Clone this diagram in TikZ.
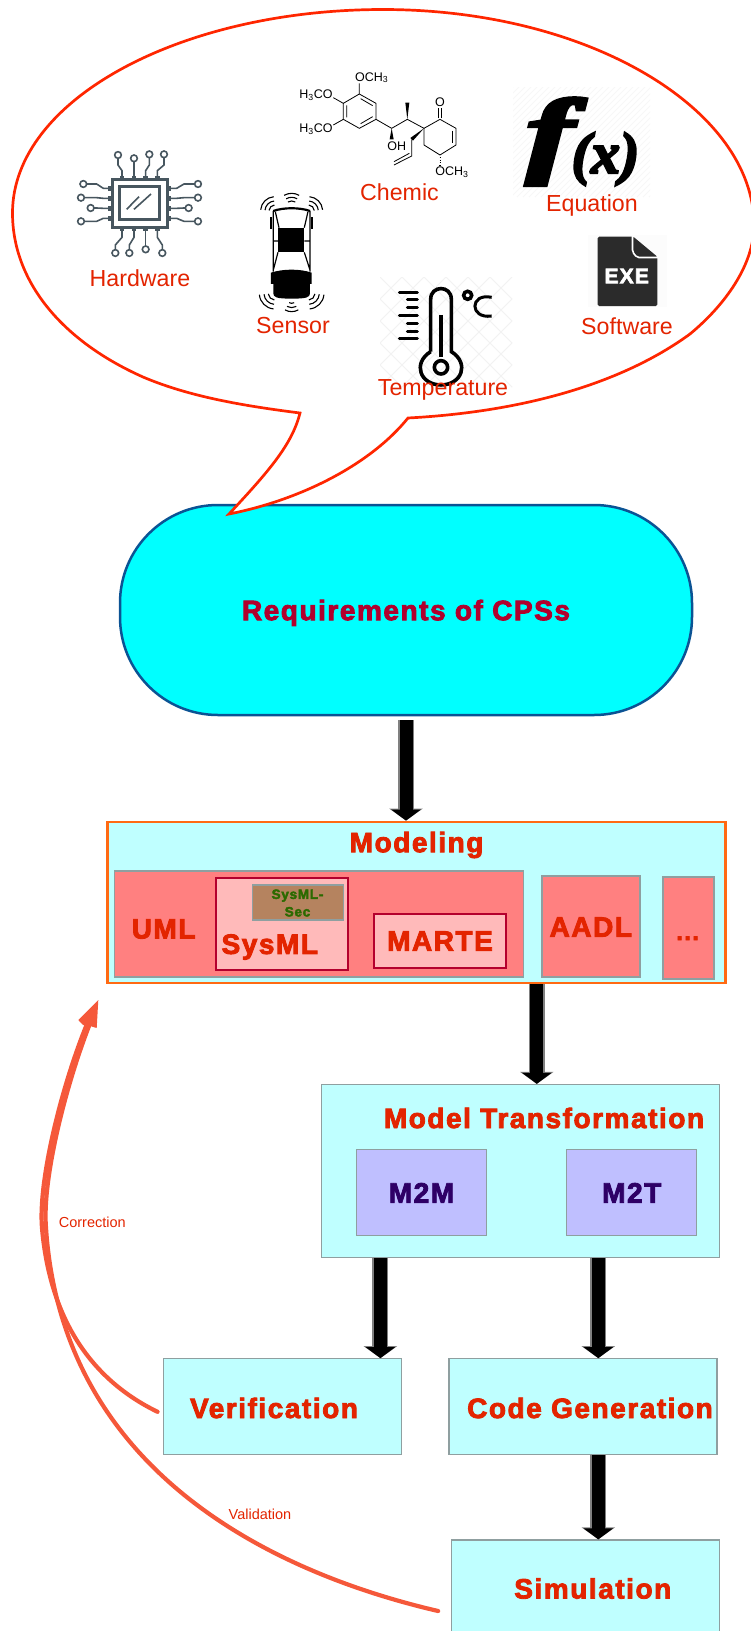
\documentclass[tikz,border=0pt]{standalone}
\usepackage{fontspec}
\setmainfont{Liberation Sans}
\newfontfamily\heavyfont[UprightFont=* Bold,FakeBold=3,LetterSpace=5.5]{Liberation Sans}
\newfontfamily\formulafont[UprightFont=* Bold Italic,FakeBold=4]{Liberation Serif}
\usetikzlibrary{calc, positioning, arrows.meta}

\definecolor{labelred}{HTML}{E32400}
\definecolor{bubblered}{HTML}{FF2600}
\definecolor{pillcyan}{HTML}{00FFFF}
\definecolor{pillblue}{HTML}{0B5394}
\definecolor{pilltext}{HTML}{B0002D}
\definecolor{palecyan}{HTML}{BFFFFF}
\definecolor{salmon}{HTML}{FF8080}
\definecolor{palered}{HTML}{FFBABA}
\definecolor{crimson}{HTML}{B4002D}
\definecolor{secbrown}{HTML}{B5835F}
\definecolor{secgreen}{HTML}{2B6A00}
\definecolor{lilac}{HTML}{BFBFFF}
\definecolor{darkviolet}{HTML}{2E0066}
\definecolor{edgegrey}{HTML}{8F9FA0}
\definecolor{edgeorange}{HTML}{FF6A13}
\definecolor{loopred}{HTML}{F5583A}
\definecolor{chipslate}{HTML}{47565F}
\definecolor{exedark}{HTML}{2B2B2B}

\newcommand{\heavy}[1]{\fontsize{#1}{#1}\selectfont\heavyfont}

\tikzset{
  box/.style={draw=edgegrey, line width=1.3pt, fill=palecyan, inner sep=0pt},
  redbox/.style={box, fill=salmon},
  innerbox/.style={draw=crimson, line width=1.8pt, fill=palered, inner sep=0pt},
  lilacbox/.style={box, fill=lilac, text=darkviolet, font=\heavy{28}},
  title/.style={text=labelred, font=\heavy{28}, inner sep=0pt},
  icontext/.style={text=labelred, font=\fontsize{23.2}{25}\selectfont, inner sep=0pt},
  smalltext/.style={text=labelred, font=\fontsize{14.5}{16}\selectfont, inner sep=0pt},
  chemtext/.style={font=\fontsize{12.5}{14}\selectfont, inner sep=0pt},
  bond/.style={line width=0.8pt, black},
  wedge/.style={fill=black, draw=none},
  fatarrow/.style={line width=13pt, black, -{Triangle[length=11pt,width=29pt]},
    preaction={draw=gray, line width=16pt, -{Triangle[length=12pt,width=33pt]}}},
  loopline/.style={loopred, line width=4.2pt, line cap=round},
  chipline/.style={chipslate, line width=1.6pt},
  sensorarc/.style={black, line width=1.1pt},
  hatch/.style={black!5, line width=1pt}
}

\begin{document}
\begin{tikzpicture}[x=1pt, y=-1pt]
  \useasboundingbox (0,0) rectangle (750,1631);

  % Requirements
  \node[draw=pillblue, line width=2.5pt, fill=pillcyan, rounded corners=98pt,
    minimum width=572pt, minimum height=210pt, text=pilltext, font=\heavy{28}, text depth=0pt]
    (reqs) at (406,610) {Requirements of CPSs};

  % Speech bubble
  \draw[bubblered, line width=2.7pt, fill=white] (408,418)
    .. controls (370,465) and (300,500) .. (229,514)
    .. controls (268,472) and (292,445) .. (300,413)
    .. controls (245,406) and (190,397) .. (143,377)
    .. controls (60,340) and (12.5,280) .. (12.5,213)
    .. controls (12.5,100) and (180,9.5) .. (383,9.5)
    .. controls (590,9.5) and (754,110) .. (754,225)
    .. controls (754,265) and (725,305) .. (690,334)
    .. controls (620,385) and (520,412) .. (408,418) -- cycle;

  % Hardware icon
  \begin{scope}[shift={(60,130)}, scale=0.3333]
    \draw[chipline, line width=3pt] (157,150) rectangle (322,292);
    \draw[chipline, line width=3pt] (180,170) rectangle (300,270);
    \draw[chipline] (200,238) -- (237,200) (222,238) -- (273,192);
    \foreach \a/\b/\c in {186/174/75, 222/222/85, 257/268/73, 292/312/73} {
      \fill[chipslate] (\a-7,138) rectangle (\a+7,150);
      \draw[chipline] (\a,140) -- (\a,122) -- (\b,105) -- (\b,\c+10);
      \draw[chipline] (\b,\c) circle (10);
    }
    \foreach \a/\b/\c in {186/166/369, 222/208/369, 257/257/358, 292/307/369} {
      \fill[chipslate] (\a-7,292) rectangle (\a+7,304);
      \draw[chipline] (\a,302) -- (\a,322) -- (\b,345) -- (\b,\c-10);
      \draw[chipline] (\b,\c) circle (10);
    }
    \foreach \a/\b/\c in {175/70/162, 205/63/203, 235/92/234, 265/63/274} {
      \fill[chipslate] (145,\a-7) rectangle (157,\a+7);
      \draw[chipline] (147,\a) -- (130,\a) -- (110,\c) -- (\b+10,\c);
      \draw[chipline] (\b,\c) circle (10);
    }
    \foreach \a/\b/\c in {175/414/162, 205/414/203, 235/386/234, 265/414/274} {
      \fill[chipslate] (322,\a-7) rectangle (334,\a+7);
      \draw[chipline] (332,\a) -- (350,\a) -- (372,\c) -- (\b-10,\c);
      \draw[chipline] (\b,\c) circle (10);
    }
  \end{scope}
  \node[icontext] (hardware) at (140,278) {Hardware};

  % Sensor icon
  \begin{scope}[shift={(60,130)}, scale=0.3333]
    \draw[black, line width=2.2pt] (640,243) .. controls (670,232) and (720,232) .. (750,243);
    \draw[black, line width=1.2pt] (640,243) -- (640,425) (750,243) -- (750,425)
      (646,245) -- (657,293) (744,245) -- (733,293)
      (654,367) -- (640,420) (733,367) -- (750,420)
      (641,333) -- (654,333) (733,333) -- (750,333);
    \draw[black, line width=2.2pt] (634,262) -- (634,298) (756,262) -- (756,298);
    \fill[black] (654,293) rectangle (733,367);
    \fill[black] (633,428) .. controls (670,416) and (720,416) .. (755,428)
      -- (755,462) -- (750,462) -- (750,490)
      .. controls (750,502) and (740,506) .. (695,506)
      .. controls (650,506) and (640,502) .. (640,490) -- (640,462) -- (633,462) -- cycle;
    \foreach \r in {22,33,45} {
      \draw[sensorarc] (695,235) ++(240:\r) arc (240:300:\r);
    }
    \foreach \r in {18,30,43} {
      \draw[sensorarc] (645,243) ++(185:\r) arc (185:265:\r);
      \draw[sensorarc] (745,243) ++(275:\r) arc (275:355:\r);
    }
    \foreach \r in {15,28,40} {
      \draw[sensorarc] (695,505) ++(60:\r) arc (60:120:\r);
    }
    \foreach \r in {20,33,47} {
      \draw[sensorarc] (645,490) ++(95:\r) arc (95:175:\r);
      \draw[sensorarc] (745,490) ++(5:\r) arc (5:85:\r);
    }
  \end{scope}
  \node[icontext] (sensor) at (293,325.6) {Sensor};

  % Chemic icon
  \begin{scope}[shift={(270,50)}, scale=0.3333]
    \draw[bond] (268,132) -- (318,160) -- (318,208) -- (268,235) -- (220,208) -- (220,160) -- cycle;
    \draw[bond] (272,146) -- (308,167) (308,200) -- (272,221) (230,166) -- (230,202);
    \draw[bond] (268,132) -- (268,100) (220,160) -- (190,143) (220,208) -- (190,225);
    \draw[bond] (318,208) -- (365,235) -- (412,208) -- (462,235);
    \draw[bond] (462,235) -- (510,208) -- (558,235) -- (558,285) -- (510,315) -- (462,285) -- cycle;
    \draw[bond] (505,205) -- (505,175) (515,205) -- (515,175) (548,242) -- (548,280);
    \draw[bond] (425,268) -- (425,318) -- (372,345) (418,310) -- (372,335);
    \fill[wedge] (365,235) -- (359,268) -- (371,268) -- cycle;
    \fill[wedge] (412,208) -- (406,158) -- (418,158) -- cycle;
    \fill[wedge] (462,235) -- (421,264) -- (429,272) -- cycle;
    \foreach \y in {322,330,338,346} {
      \draw[black, line width=0.7pt] (510-\y/40+7,\y) -- (510+\y/40-7,\y);
    }
    \node[chemtext] (och1) at (305,83) {OCH\textsubscript{3}};
    \node[chemtext] (hco1) at (138,135) {H\textsubscript{3}CO};
    \node[chemtext] (hco2) at (138,238) {H\textsubscript{3}CO};
    \node[chemtext] (oh) at (380,288) {OH};
    \node[chemtext] (oxo) at (510,158) {O};
    \node[chemtext] (och2) at (546,367) {OCH\textsubscript{3}};
  \end{scope}
  \node[icontext] (chemic) at (399.5,192) {Chemic};

  % Equation icon
  \begin{scope}
    \clip (513,87) rectangle (650,197);
    \foreach \x in {513,519,...,770} {
      \draw[hatch, black!3] (\x,87) -- (\x-110,197);
    }
  \end{scope}
  \node[inner sep=0pt, anchor=base west] (formula) at (526,165)
    {\fontsize{95}{95}\selectfont\formulafont\scalebox{1.5}[1]{f}\kern-2pt\raisebox{-8pt}{\fontsize{58}{58}\selectfont(x)}};
  \node[icontext] (equation) at (592,205.7) {Equation};

  % Software icon
  \fill[black!1] (588,235) rectangle (667,307);
  \fill[exedark, rounded corners=1.5pt] (597.7,236.7) -- (633.3,236.7) -- (657.3,256.7) -- (657.3,306) -- (597.7,306) -- cycle;
  \draw[white, line width=1.6pt, rounded corners=2pt] (632.5,236) -- (632.5,252) -- (637,257.5) -- (658,257.5);
  \node[inner sep=0pt, text=white, font=\fontsize{21}{21}\selectfont\heavyfont] (exe) at (626.7,276) {EXE};
  \node[icontext] (software) at (627,326.7) {Software};

  % Temperature icon
  \begin{scope}
    \clip (380,277) rectangle (512,387);
    \foreach \x in {248,270,...,640} {
      \draw[hatch] (\x,277) -- (\x+110,387);
      \draw[hatch] (\x,277) -- (\x-110,387);
    }
  \end{scope}
  \begin{scope}[shift={(370,70)}, scale=0.3333]
    \draw[black, line width=3.6pt] (182,845) -- (182,688)
      .. controls (182,645) and (244,645) .. (244,688) -- (244,845)
      .. controls (300,880) and (275,945) .. (213,945)
      .. controls (151,945) and (126,880) .. (182,845);
    \draw[black, line width=3.6pt] (213,735) -- (213,862);
    \draw[black, line width=3.6pt] (213,892) circle (20);
    \foreach \y in {668,738,805} {
      \draw[black, line width=3pt, line cap=round] (88,\y) -- (142,\y);
    }
    \foreach \y in {690,714,762,785} {
      \draw[black, line width=3pt, line cap=round] (112,\y) -- (142,\y);
    }
    \draw[black, line width=3.6pt] (293,676) circle (12);
    \draw[black, line width=3pt] (365,682) .. controls (298,668) and (298,748) .. (365,738);
  \end{scope}
  \node[icontext] (temperature) at (443,390) {Temperature};

  % Modeling
  \node[box, draw=edgeorange, line width=2.8pt, minimum width=618pt, minimum height=161pt] (modeling) at (416.2,902.5) {};
  \node[title] (modelingtext) at (416.6,845) {Modeling};
  \node[redbox, minimum width=409pt, minimum height=106pt] (uml) at (319,924) {};
  \node[title] (umltext) at (163.6,929) {UML};
  \node[innerbox, minimum width=132pt, minimum height=92pt] (sysml) at (282,924) {};
  \node[title] (sysmltext) at (269.8,947) {SysML};
  \node[box, fill=secbrown, minimum width=91pt, minimum height=35pt] (sec) at (298,902.5) {};
  \node[inner sep=0pt, text=secgreen, font=\heavy{13.5}, align=center] (sectext) at (297.5,903) {SysML-\\[4pt]Sec};
  \node[innerbox, minimum width=132pt, minimum height=54pt, title] (marte) at (440,941) {MARTE};
  \node[redbox, minimum width=98pt, minimum height=101pt, title] (aadl) at (591,926.4) {};
  \node[title] (aadltext) at (590.8,927) {AADL};
  \node[redbox, minimum width=51pt, minimum height=102pt] (more) at (688.5,928) {};
  \node[text=labelred, inner sep=0pt, font=\heavy{24}, anchor=base] (moretext) at (687.6,940) {...};

  % Model Transformation
  \node[box, minimum width=398pt, minimum height=173pt] (transform) at (520.5,1171) {};
  \node[title] (transformtext) at (544,1118) {Model Transformation};
  \node[lilacbox, minimum width=130pt, minimum height=86pt] (m2m) at (421.5,1192.8) {M2M};
  \node[lilacbox, minimum width=130pt, minimum height=86pt] (m2t) at (631.8,1192.8) {M2T};

  % Lower boxes
  \node[box, minimum width=238pt, minimum height=96pt] (verification) at (282.2,1406.8) {};
  \node[title] (verificationtext) at (274,1408) {Verification};
  \node[box, minimum width=268pt, minimum height=96pt] (code) at (582.9,1406.8) {};
  \node[title] (codetext) at (590,1408) {Code Generation};
  \node[box, minimum width=268pt, minimum height=100pt] (simulation) at (585.8,1590) {};
  \node[title] (simulationtext) at (592.8,1588.5) {Simulation};

  % Flow arrows
  \draw[fatarrow, shorten <=4pt] (reqs.south) -- (reqs.south |- modeling.north);
  \draw[fatarrow] ([xshift=16.3pt]transform.north |- modeling.south) -- ([xshift=16.3pt]transform.north);
  \draw[fatarrow] ([xshift=98.2pt]verification.north |- transform.south) -- ([xshift=98.2pt]verification.north);
  \draw[fatarrow] ([xshift=15.4pt]code.north |- transform.south) -- ([xshift=15.4pt]code.north);
  \draw[fatarrow] ([xshift=15.4pt]code.south) -- ([xshift=15.4pt]code.south |- simulation.north);

  % Feedback loops
  \coordinate (looptip) at (98.3,1000);
  \draw[loopline] ([xshift=-5pt,yshift=-5pt]verification.west)
    .. controls (92,1380) and (50,1320) .. (42,1228)
    .. controls (38,1180) and (62,1085) .. (87,1024);
  \draw[loopline] ([xshift=-13pt,yshift=-21pt]simulation.west)
    .. controls (270,1572) and (62,1470) .. (46,1228)
    .. controls (42,1180) and (65,1088) .. (89,1026);
  \fill[loopred] (looptip) -- (96.7,1028) -- (90,1026) -- (83,1025) -- (78.3,1020) -- cycle;
  \node[smalltext] (correction) at (92.3,1222) {Correction};
  \node[smalltext] (validation) at (260,1514) {Validation};
\end{tikzpicture}
\end{document}
